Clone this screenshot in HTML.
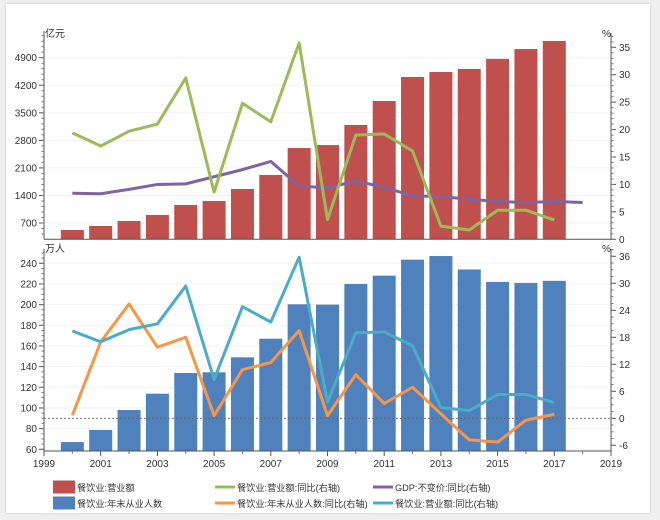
<!DOCTYPE html>
<html><head><meta charset="utf-8">
<style>
html,body{margin:0;padding:0;background:#f0f0f0;}
#card{position:absolute;left:6px;top:4px;width:644px;height:509px;background:#fff;box-shadow:0 0 3px #ccc;}
svg{position:absolute;left:0;top:0;}
text{font-family:"Liberation Sans","Noto Sans CJK SC",sans-serif;font-size:10px;fill:#333;}
.leg text{font-size:9.2px;}
</style></head>
<body>
<div id="card"></div>
<svg id="chart" width="660" height="520"></svg>
<script>
const years=[2000,2001,2002,2003,2004,2005,2006,2007,2008,2009,2010,2011,2012,2013,2014,2015,2016,2017];
const revenue=[522,624,750,903,1157,1259,1564,1920,2605,2680,3190,3800,4410,4537,4613,4870,5120,5325];
const revenueYoY=[19.4,17.0,19.7,21.0,29.4,8.6,24.8,21.4,35.8,3.6,19.0,19.2,16.1,2.4,1.7,5.3,5.3,3.5];
const gdpYears=[2000,2001,2002,2003,2004,2005,2006,2007,2008,2009,2010,2011,2012,2013,2014,2015,2016,2017,2018];
const gdpYoY=[8.4,8.3,9.1,10.0,10.1,11.4,12.7,14.2,9.7,9.4,10.6,9.5,7.9,7.8,7.3,6.9,6.7,6.9,6.7];
const employees=[67,78.7,98,113.8,133.8,134.5,149,167,200.3,200,220,228,243.5,247,234,222,221,223];
const employeesYoY=[0.7,17,25.4,15.8,18,0.6,10.8,12.4,19.5,0.6,9.7,3.3,6.9,1,-4.8,-5.3,-0.4,0.9];
const topLeftTicks=[700,1400,2100,2800,3500,4200,4900];
const topRightTicks=[0,5,10,15,20,25,30,35];
const botLeftTicks=[60,80,100,120,140,160,180,200,220,240];
const botRightTicks=[-6,0,6,12,18,24,30,36];
const xTicks=[1999,2001,2003,2005,2007,2009,2011,2013,2015,2017,2019];

const NS="http://www.w3.org/2000/svg";
const svg=document.getElementById('chart');
function el(tag,attrs,parent){const e=document.createElementNS(NS,tag);for(const k in attrs)e.setAttribute(k,attrs[k]);(parent||svg).appendChild(e);return e;}
const X0=44,X1=611;
const x=y=>X0+(y-1999)*(X1-X0)/20;
const yTL=v=>223-(v-700)*27.55/700;
const yTR=v=>239.3-v*5.486;
const yBL=v=>449.3-(v-60)*20.67/20;
const yBR=v=>418.3-v*4.5;
const BW=23;

function grid(vals,f){vals.forEach(v=>{const l=el('line',{x1:X0,x2:X1,y1:f(v),y2:f(v),stroke:'#f2f2f2'});});}
grid(topLeftTicks,yTL);grid(botLeftTicks,yBL);

years.forEach((yr,i)=>{const t=yTL(revenue[i]);const r=el('rect',{x:x(yr)-BW/2,y:t,width:BW,height:239.3-t,fill:'#c0504d'});
});
years.forEach((yr,i)=>{const t=yBL(employees[i]);const r=el('rect',{x:x(yr)-BW/2,y:t,width:BW,height:451-t,fill:'#4f81bd'});
});

const zl=el('line',{x1:X0,x2:X1,y1:yBR(0),y2:yBR(0),stroke:'#666','stroke-dasharray':'2,2','stroke-width':0.8});


function line(xs,vals,f,color,name){const p=el('polyline',{points:xs.map((yr,i)=>x(yr)+','+f(vals[i])).join(' '),fill:'none',stroke:color,'stroke-width':3,'stroke-linejoin':'round'});
}
line(gdpYears,gdpYoY,yTR,'#8064a2','line-gdp-yoy');
line(years,revenueYoY,yTR,'#9bbb59','line-revenue-yoy');
line(years,employeesYoY,yBR,'#f79646','line-employees-yoy');
line(years,revenueYoY,yBR,'#4bacc6','line-revenue-yoy-bottom');

function axisV(xp,y0,y1,ticks,f,right,name,minor){
  const a=el('line',{x1:xp,x2:xp,y1:y0,y2:y1,stroke:'#555'});
  for(let i=0;i<ticks.length;i++){const yy=f(ticks[i]);
    el('line',{x1:xp,x2:right?xp+5:xp-5,y1:yy,y2:yy,stroke:'#555'});
    const t=el('text',{x:right?xp+8:xp-7,y:yy+3.5,'text-anchor':right?'start':'end'});t.textContent=ticks[i];
    }
  const step=(f(ticks[1])-f(ticks[0]))/minor;
  for(let yy=f(ticks[0]);(step<0?yy>=y0:yy<=y1);yy+=step)el('line',{x1:xp,x2:right?xp+2.5:xp-2.5,y1:yy,y2:yy,stroke:'#777'});
  for(let yy=f(ticks[0]);(step<0?yy<=y1:yy>=y0);yy-=step)el('line',{x1:xp,x2:right?xp+2.5:xp-2.5,y1:yy,y2:yy,stroke:'#777'});
}
axisV(X0,31,239.3,topLeftTicks,yTL,false,'top-left-axis',5);
axisV(X1,33,239.3,topRightTicks,yTR,true,'top-right-axis',5);
axisV(X0,249,451,botLeftTicks,yBL,false,'bottom-left-axis',4);
axisV(X1,249,451,botRightTicks,yBR,true,'bottom-right-axis',4);
const xa=el('line',{x1:X0,x2:X1,y1:451,y2:451,stroke:'#555'});
el('line',{x1:X0,x2:X1,y1:239.3,y2:239.3,stroke:'#555'});
xTicks.forEach(yr=>{el('line',{x1:x(yr),x2:x(yr),y1:451,y2:456,stroke:'#555'});
  const t=el('text',{x:x(yr),y:467,'text-anchor':'middle'});t.textContent=yr;});
for(let yr=2000;yr<=2018;yr+=2)el('line',{x1:x(yr),x2:x(yr),y1:451,y2:454,stroke:'#777'});

function label(xp,yp,s,name){const t=el('text',{x:xp,y:yp});t.textContent=s;}
label(45,37,'亿元','top-left-unit');label(602,37,'%','top-right-unit');
label(45,252,'万人','bottom-left-unit');label(602,252,'%','bottom-right-unit');

const leg=[
 ['rect','#c0504d',53,487,'餐饮业:营业额','legend-revenue'],
 ['line','#9bbb59',215,487,'餐饮业:营业额:同比(右轴)','legend-revenue-yoy'],
 ['line','#8064a2',373,487,'GDP:不变价:同比(右轴)','legend-gdp-yoy'],
 ['rect','#4f81bd',53,503,'餐饮业:年末从业人数','legend-employees'],
 ['line','#f79646',215,503,'餐饮业:年末从业人数:同比(右轴)','legend-employees-yoy'],
 ['line','#4bacc6',373,503,'餐饮业:营业额:同比(右轴)','legend-revenue-yoy-2']];
leg.forEach(l=>{const g=el('g',{class:'leg'});
  if(l[0]==='rect')el('rect',{x:l[2],y:l[3]-6.5,width:22,height:13,fill:l[1]},g);
  else el('line',{x1:l[2],x2:l[2]+20,y1:l[3],y2:l[3],stroke:l[1],'stroke-width':3},g);
  const t=el('text',{x:l[2]+(l[0]==='rect'?24:22),y:l[3]+4},g);t.textContent=l[4];});
</script>
</body></html>
